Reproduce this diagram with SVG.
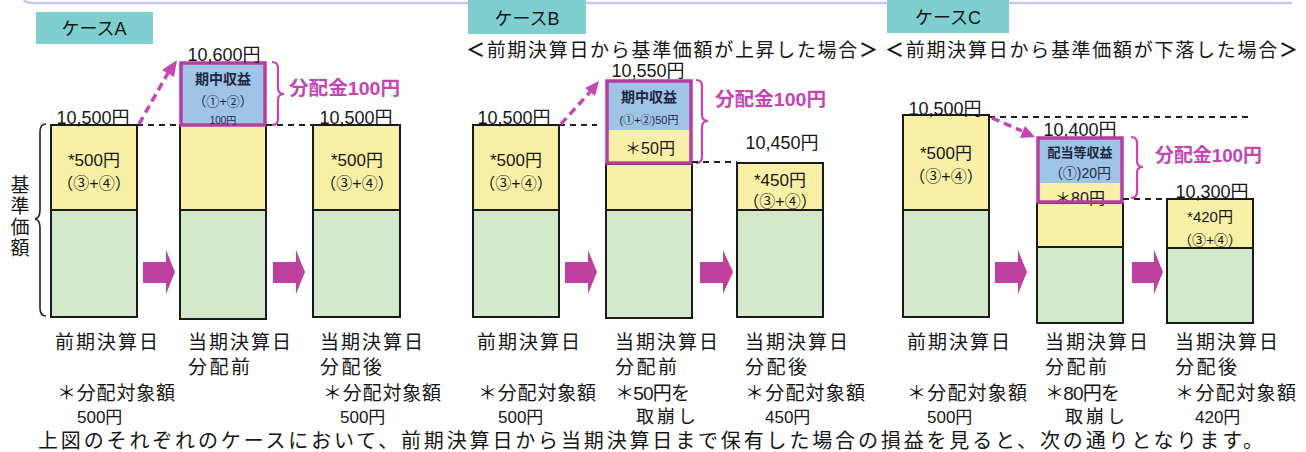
<svg xmlns="http://www.w3.org/2000/svg" width="1306" height="452" viewBox="0 0 1306 452">
<style>
.t{font-family:"Liberation Sans","Noto Sans CJK JP",sans-serif;fill:#161616}
.bx{stroke:#1a1a1a;stroke-width:2}
.y{fill:#f8f0a6}
.g{fill:#d4e8cb}
.b{fill:#9fc4e6}
.pb{fill:none;stroke:#b63ea2;stroke-width:3.5}
.dash{stroke:#222;stroke-width:2;stroke-dasharray:6 5;fill:none}
.md{stroke:#c744b4;stroke-width:3.5;stroke-dasharray:8 5;fill:none}
.mh{fill:#c744b4}
.arr{fill:#c0409f}
.mg{fill:#c744b4;font-weight:bold;font-size:19px}
.br{fill:none;stroke:#c744b4;stroke-width:2.2}
.hd{fill:#80cfd0}
.in{fill:#1d2840}
.c{text-anchor:middle}
.v{font-size:18px}
.bk{font-weight:bold}
</style>
<path d="M24,0 Q26,3 32,3 L1292,3" fill="none" stroke="#c6c8f0" stroke-width="2.5"/>

<!-- ===== Case A ===== -->
<g id="caseA-header">
<rect class="hd" x="36" y="12" width="117" height="32"/>
<text class="t" x="94" y="35" font-size="18" text-anchor="middle">ケースA</text>
</g>
<g id="caseA-axis">
<path d="M46,124 Q40,124 40,132 L40,210 Q40,218 35,219 Q40,220 40,228 L40,308 Q40,316 46,316" fill="none" stroke="#222" stroke-width="1.6"/>
<text class="t" x="20" y="192" font-size="19" text-anchor="middle">基</text>
<text class="t" x="20" y="213" font-size="19" text-anchor="middle">準</text>
<text class="t" x="20" y="234" font-size="19" text-anchor="middle">価</text>
<text class="t" x="20" y="255" font-size="19" text-anchor="middle">額</text>
</g>
<g id="caseA-bar1">
<rect class="y bx" x="51" y="125" width="86" height="85"/>
<rect class="g bx" x="51" y="210" width="86" height="107"/>
<text class="t c v" x="93" y="124">10,500円</text>
<text class="t c" x="94" y="166" font-size="17">*500円</text>
<text class="t c" x="94" y="189" font-size="16">（③+④）</text>
</g>
<g id="caseA-bar2">
<rect class="y bx" x="180" y="125" width="86" height="85"/>
<rect class="g bx" x="180" y="210" width="86" height="109"/>
<rect class="b" x="180" y="62" width="86" height="64"/>
<rect class="pb" x="181" y="63" width="84" height="62"/>
<text class="t c v" x="224" y="61">10,600円</text>
<text class="t c in" x="223" y="84" font-size="14" font-weight="bold">期中収益</text>
<text class="t c in" x="223" y="106" font-size="13">（①+②）</text>
<text class="t c in" x="223" y="124" font-size="10">100円</text>
</g>
<g id="caseA-bar3">
<rect class="y bx" x="313" y="125" width="87" height="85"/>
<rect class="g bx" x="313" y="210" width="87" height="107"/>
<text class="t c v" x="356" y="124">10,500円</text>
<text class="t c" x="357" y="166" font-size="17">*500円</text>
<text class="t c" x="357" y="189" font-size="16">（③+④）</text>
</g>
<g id="caseA-dist">
<path class="br" d="M272,62 Q278,62 278,68 L278,88 Q278,94 284,94 Q278,94 278,100 L278,119 Q278,125 272,125"/>
<text class="t mg" x="289" y="95" textLength="111" lengthAdjust="spacingAndGlyphs">分配金100円</text>
</g>
<g id="caseA-labels" class="t" font-size="19">
<text x="55" y="349" textLength="103" lengthAdjust="spacing">前期決算日</text>
<text x="188" y="349" textLength="103" lengthAdjust="spacing">当期決算日</text>
<text x="188" y="374" textLength="62" lengthAdjust="spacing">分配前</text>
<text x="320" y="349" textLength="103" lengthAdjust="spacing">当期決算日</text>
<text x="320" y="374" textLength="62" lengthAdjust="spacing">分配後</text>
<text x="57" y="400" textLength="118" lengthAdjust="spacing">＊分配対象額</text>
<text x="77" y="423" font-size="17">500円</text>
<text x="323" y="400" textLength="118" lengthAdjust="spacing">＊分配対象額</text>
<text x="340" y="423" font-size="17">500円</text>
</g>

<!-- ===== Case B ===== -->
<g id="caseB-header">
<rect class="hd" x="468" y="0" width="118" height="34"/>
<text class="t" x="527" y="25" font-size="18" text-anchor="middle">ケースB</text>
<text class="t" x="466" y="57" font-size="19" textLength="412" lengthAdjust="spacing"><tspan class="bk">＜</tspan>前期決算日から基準価額が上昇した場合<tspan class="bk">＞</tspan></text>
</g>
<g id="caseB-bar1">
<rect class="y bx" x="473" y="125" width="86" height="85"/>
<rect class="g bx" x="473" y="210" width="86" height="107"/>
<text class="t c v" x="514" y="124">10,500円</text>
<text class="t c" x="516" y="166" font-size="17">*500円</text>
<text class="t c" x="516" y="189" font-size="16">（③+④）</text>
</g>
<g id="caseB-bar2">
<rect class="y bx" x="606" y="164" width="86" height="46"/>
<rect class="g bx" x="606" y="210" width="86" height="108"/>
<rect class="b" x="606" y="80" width="86" height="50"/>
<rect class="y" x="606" y="130" width="86" height="34"/>
<rect class="pb" x="607" y="81" width="84" height="82"/>
<text class="t c v" x="648" y="77">10,550円</text>
<text class="t c in" x="649" y="102" font-size="14" font-weight="bold">期中収益</text>
<text class="t c in" x="649" y="124" font-size="11">(①+②)50円</text>
<text class="t c" x="650" y="154" font-size="16">＊50円</text>
</g>
<g id="caseB-bar3">
<rect class="y bx" x="737" y="163" width="86" height="47"/>
<rect class="g bx" x="737" y="210" width="86" height="107"/>
<text class="t c v" x="782" y="149">10,450円</text>
<text class="t c" x="780" y="186" font-size="17">*450円</text>
<text class="t c" x="780" y="207" font-size="16">（③+④）</text>
</g>
<g id="caseB-dist">
<path class="br" d="M696,80 Q702,80 702,86 L702,115 Q702,121 708,121 Q702,121 702,127 L702,157 Q702,163 696,163"/>
<text class="t mg" x="715" y="106" textLength="111" lengthAdjust="spacingAndGlyphs">分配金100円</text>
</g>
<g id="caseB-labels" class="t" font-size="19">
<text x="477" y="349" textLength="103" lengthAdjust="spacing">前期決算日</text>
<text x="615" y="349" textLength="103" lengthAdjust="spacing">当期決算日</text>
<text x="615" y="374" textLength="62" lengthAdjust="spacing">分配前</text>
<text x="745" y="349" textLength="103" lengthAdjust="spacing">当期決算日</text>
<text x="745" y="374" textLength="62" lengthAdjust="spacing">分配後</text>
<text x="478" y="400" textLength="118" lengthAdjust="spacing">＊分配対象額</text>
<text x="498" y="423" font-size="17">500円</text>
<text x="615" y="400" textLength="75" lengthAdjust="spacing">＊50円を</text>
<text x="636" y="423" font-size="18" textLength="60" lengthAdjust="spacing">取崩し</text>
<text x="745" y="400" textLength="120" lengthAdjust="spacing">＊分配対象額</text>
<text x="765" y="423" font-size="17">450円</text>
</g>

<!-- ===== Case C ===== -->
<g id="caseC-header">
<rect class="hd" x="887" y="0" width="122" height="33"/>
<text class="t" x="948" y="24" font-size="18" text-anchor="middle">ケースC</text>
<text class="t" x="885" y="57" font-size="19" textLength="413" lengthAdjust="spacing"><tspan class="bk">＜</tspan>前期決算日から基準価額が下落した場合<tspan class="bk">＞</tspan></text>
</g>
<g id="caseC-bar1">
<rect class="y bx" x="903" y="115" width="86" height="95"/>
<rect class="g bx" x="903" y="210" width="86" height="107"/>
<text class="t c v" x="945" y="115">10,500円</text>
<text class="t c" x="946" y="159" font-size="17">*500円</text>
<text class="t c" x="946" y="182" font-size="16">（③+④）</text>
</g>
<g id="caseC-bar2">
<rect class="y bx" x="1037" y="203" width="86" height="44"/>
<rect class="g bx" x="1037" y="247" width="86" height="76"/>
<rect class="b" x="1037" y="137" width="86" height="46"/>
<rect class="y" x="1037" y="183" width="86" height="20"/>
<text class="t c v" x="1080" y="136">10,400円</text>
<text class="t c in" x="1080" y="157" font-size="13" font-weight="bold">配当等収益</text>
<text class="t c in" x="1080" y="178" font-size="14">（①)20円</text>
<text class="t c" x="1080" y="204" font-size="16">＊80円</text>
<rect class="pb" x="1038" y="138" width="84" height="64"/>
</g>
<g id="caseC-bar3">
<rect class="y bx" x="1167" y="199" width="86" height="49"/>
<rect class="g bx" x="1167" y="248" width="86" height="75"/>
<text class="t c v" x="1212" y="198">10,300円</text>
<text class="t c" x="1210" y="222" font-size="15">*420円</text>
<text class="t c" x="1210" y="245" font-size="14">（③+④）</text>
</g>
<g id="caseC-dist">
<path class="br" d="M1131,137 Q1137,137 1137,143 L1137,161 Q1137,167 1143,167 Q1137,167 1137,173 L1137,192 Q1137,198 1131,198"/>
<text class="t mg" x="1155" y="162" textLength="107" lengthAdjust="spacingAndGlyphs">分配金100円</text>
</g>
<g id="caseC-labels" class="t" font-size="19">
<text x="907" y="349" textLength="103" lengthAdjust="spacing">前期決算日</text>
<text x="1045" y="349" textLength="103" lengthAdjust="spacing">当期決算日</text>
<text x="1045" y="374" textLength="62" lengthAdjust="spacing">分配前</text>
<text x="1175" y="349" textLength="103" lengthAdjust="spacing">当期決算日</text>
<text x="1175" y="374" textLength="62" lengthAdjust="spacing">分配後</text>
<text x="907" y="400" textLength="120" lengthAdjust="spacing">＊分配対象額</text>
<text x="927" y="423" font-size="17">500円</text>
<text x="1045" y="400" textLength="75" lengthAdjust="spacing">＊80円を</text>
<text x="1065" y="423" font-size="18" textLength="60" lengthAdjust="spacing">取崩し</text>
<text x="1175" y="400" textLength="121" lengthAdjust="spacing">＊分配対象額</text>
<text x="1195" y="423" font-size="17">420円</text>
</g>

<!-- ===== Connectors ===== -->
<g id="connectors">
<line class="dash" x1="137" y1="125" x2="180" y2="125"/>
<line class="dash" x1="266" y1="125" x2="313" y2="125"/>
<line class="md" x1="139" y1="124" x2="168" y2="73"/>
<polygon class="mh" points="177,60 174,77 162,70"/>
<line class="dash" x1="559" y1="125" x2="597" y2="125"/>
<line class="md" x1="561" y1="124" x2="590" y2="92"/>
<polygon class="mh" points="599,81 595,96 585,88"/>
<line class="dash" x1="692" y1="162" x2="737" y2="162"/>
<line class="dash" x1="989" y1="117" x2="1250" y2="117"/>
<line class="md" x1="992" y1="118" x2="1022" y2="131"/>
<polygon class="mh" points="1035,137 1020,138 1025,126"/>
<line class="dash" x1="1123" y1="199" x2="1167" y2="199"/>
<polygon class="arr" points="143,262 166,262 166,250 175,272 166,294 166,283 143,283"/>
<polygon class="arr" points="273,262 296,262 296,250 305,272 296,294 296,283 273,283"/>
<polygon class="arr" points="565,262 588,262 588,250 597,272 588,294 588,283 565,283"/>
<polygon class="arr" points="700,262 723,262 723,250 733,272 723,294 723,283 700,283"/>
<polygon class="arr" points="995,262 1018,262 1018,250 1027,272 1018,294 1018,283 995,283"/>
<polygon class="arr" points="1132,262 1154,262 1154,250 1163,272 1154,294 1154,283 1132,283"/>
</g>

<text class="t" x="38" y="448" font-size="20" textLength="1225" lengthAdjust="spacing">上図のそれぞれのケースにおいて、前期決算日から当期決算日まで保有した場合の損益を見ると、次の通りとなります。</text>
</svg>
